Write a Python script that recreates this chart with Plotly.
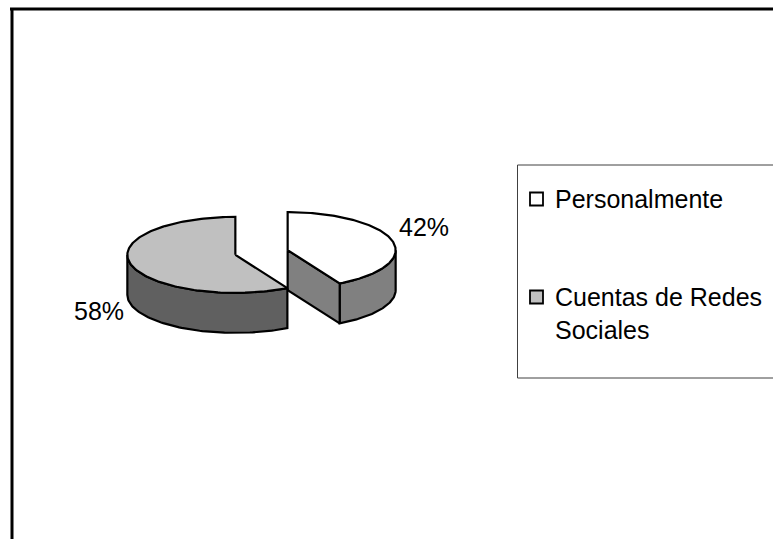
import numpy as np
import plotly.graph_objects as go

# ---- data ----
categories = ["Personalmente", "Cuentas de Redes Sociales"]
legend_labels = ["Personalmente", "Cuentas de Redes<br>Sociales"]
values = [42, 58]

# ---- style / layout constants ----
top_colors = ["#ffffff", "#c0c0c0"]
side_colors = ["#808080", "#606060"]
W, H = 773, 539
CX, CY = 261.5, 252.5      # pie centre (px)
RX, RY = 108, 38           # ellipse radii (px)
DEPTH = 40                 # thickness (px)
EXPLODE = 0.25
label_xy = [(424, 227), (99, 311)]
legend_box = (517.5, 165, 800, 378)
legend_item_y = [199, 297]
legend_sq_x = (530, 543)
legend_text_x = 553
FONT = "Arial, 'Liberation Sans', sans-serif"
FSIZE = 25
LINE = dict(color="black", width=2.2)

fig = go.Figure()

total = float(sum(values))
start = 0.0
slices = []
for i, v in enumerate(values):
    a0 = start * 360.0
    a1 = (start + v / total) * 360.0
    start += v / total
    mid = np.radians((a0 + a1) / 2)
    cx = CX + EXPLODE * RX * np.sin(mid)
    cy = CY - EXPLODE * RY * np.cos(mid)
    slices.append((i, a0, a1, cx, cy))


def rim(cx, cy, ang_deg, dz=0.0):
    t = np.radians(ang_deg)
    return cx + RX * np.sin(t), cy - RY * np.cos(t) + dz


def poly(xs, ys, color):
    fig.add_trace(go.Scatter(x=list(xs) + [xs[0]], y=list(ys) + [ys[0]],
                             mode="lines", fill="toself", fillcolor=color,
                             line=LINE, hoverinfo="skip", showlegend=False))


for i, a0, a1, cx, cy in slices:
    side = side_colors[i]
    # curved outer side (front half only: 90..270 deg)
    lo, hi = max(a0, 90.0), min(a1, 270.0)
    if hi > lo:
        ang = np.linspace(lo, hi, 80)
        tx, ty = rim(cx, cy, ang)
        bx, by = rim(cx, cy, ang[::-1], DEPTH)
        poly(np.concatenate([tx, bx]), np.concatenate([ty, by]), side)
    # radial faces
    for a, sgn in ((a1, 1), (a0, -1)):
        if sgn * np.sin(np.radians(a)) > 1e-6:
            rx, ry = rim(cx, cy, a)
            poly([cx, rx, rx, cx], [cy, ry, ry + DEPTH, cy + DEPTH], side)
    # top face
    ang = np.linspace(a0, a1, 160)
    tx, ty = rim(cx, cy, ang)
    poly(np.concatenate([[cx], tx]), np.concatenate([[cy], ty]), top_colors[i])

annotations = []
for (lx, ly), v in zip(label_xy, values):
    annotations.append(dict(x=lx, y=ly, text=f"{v}%", showarrow=False,
                            xanchor="center", yanchor="middle",
                            font=dict(family=FONT, size=FSIZE, color="black")))

shapes = [
    dict(type="rect", x0=legend_box[0], y0=legend_box[1], x1=legend_box[2], y1=legend_box[3],
         line=dict(color="#404040", width=1), fillcolor="white", layer="below"),
    dict(type="line", x0=10, y0=9, x1=W + 5, y1=9, line=dict(color="black", width=3)),
    dict(type="line", x0=12, y0=8, x1=12, y1=H + 5, line=dict(color="black", width=3)),
]
for lab, yc, col in zip(legend_labels, legend_item_y, top_colors):
    shapes.append(dict(type="rect", x0=legend_sq_x[0], x1=legend_sq_x[1], y0=yc - 6.5, y1=yc + 6.5,
                       line=dict(color="black", width=1.8), fillcolor=col))
    nlines = lab.count("<br>") + 1
    annotations.append(dict(x=legend_text_x, y=yc + (nlines - 1) * FSIZE * 1.3 / 2, text=lab,
                            showarrow=False, xanchor="left", yanchor="middle", align="left",
                            font=dict(family=FONT, size=FSIZE, color="black")))

fig.update_layout(
    width=W, height=H, autosize=False,
    margin=dict(l=0, r=0, t=0, b=0),
    paper_bgcolor="white", plot_bgcolor="white",
    xaxis=dict(range=[0, W], visible=False, fixedrange=True),
    yaxis=dict(range=[H, 0], visible=False, fixedrange=True),
    shapes=shapes, annotations=annotations, showlegend=False,
)

fig.write_html("out.html", config={"displayModeBar": False},
               post_script="document.body.style.margin='0px';document.body.style.overflow='hidden';")
